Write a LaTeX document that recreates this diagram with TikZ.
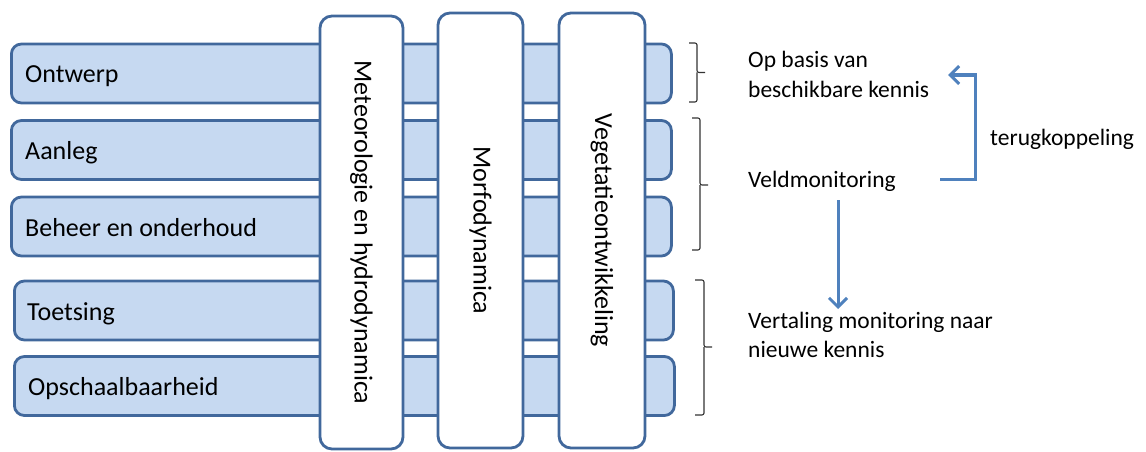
\documentclass[tikz,border=0pt]{standalone}
\usepackage{fontspec}
\setmainfont{Carlito}
\usetikzlibrary{arrows.meta}
\definecolor{barfill}{HTML}{C6D9F1}
\definecolor{barline}{HTML}{41689C}
\definecolor{arrowblue}{HTML}{4F81BD}
\definecolor{bracegray}{HTML}{333333}
\tikzset{
  bar/.style={draw=barline, fill=barfill, line width=2.8pt, rounded corners=10pt, minimum height=59pt, inner sep=0pt, anchor=west},
  vbox/.style={draw=barline, fill=white, line width=2.8pt, rounded corners=12pt, inner sep=0pt, rotate=-90, font=\fontsize{26}{28}\selectfont},
  bartext/.style={anchor=base west, inner sep=0pt, font=\fontsize{26}{28}\selectfont},
  sidetext/.style={anchor=base west, inner sep=0pt, font=\fontsize{23.5}{28}\selectfont},
  bracket/.style={draw=bracegray, line width=1.1pt, rounded corners=2pt},
  flow/.style={draw=arrowblue, line width=3pt, -{Straight Barb[length=9pt,width=18pt,line width=3pt]}}
}
\begin{document}
\begin{tikzpicture}[x=1pt,y=1pt]
\useasboundingbox (0,0) rectangle (1146,451);
% horizontal bars
\node[bar, minimum width=660pt] (r1) at (10,377.5) {};
\node[bar, minimum width=660pt] (r2) at (10,301) {};
\node[bar, minimum width=660pt] (r3) at (10,224.5) {};
\node[bar, minimum width=659pt] (r4) at (13,140.5) {};
\node[bar, minimum width=660pt] (r5) at (13,65) {};
\node[bartext] (t1) at (25,368) {Ontwerp};
\node[bartext] (t2) at (25,291.5) {Aanleg};
\node[bartext] (t3) at (25,215) {Beheer en onderhoud};
\node[bartext] (t4) at (27,131) {Toetsing};
\node[bartext] (t5) at (28,55.5) {Opschaalbaarheid};
% vertical boxes
\node[vbox, minimum width=433pt, minimum height=83pt] (v1) at (361.5,218.5) {Meteorologie en hydrodynamica};
\node[vbox, minimum width=435pt, minimum height=85pt] (v2) at (480.5,220.5) {Morfodynamica};
\node[vbox, minimum width=435pt, minimum height=86pt] (v3) at (602,220.5) {Vegetatieontwikkeling};
% brackets
\coordinate (b1t) at (689,408); \coordinate (b1b) at (689,349); \coordinate (b1m) at (705,378.5);
\draw[bracket] (b1t) -- (697,408) -- (697,378.5) -- (b1m);
\draw[bracket] (b1b) -- (697,349) -- (697,378.5);
\coordinate (b2t) at (692,333); \coordinate (b2b) at (692,201); \coordinate (b2m) at (708,266);
\draw[bracket] (b2t) -- (700,333) -- (700,266) -- (b2m);
\draw[bracket] (b2b) -- (700,201) -- (700,266);
\coordinate (b3t) at (695,171); \coordinate (b3b) at (695,36); \coordinate (b3m) at (712,104);
\draw[bracket] (b3t) -- (704,171) -- (704,104) -- (b3m);
\draw[bracket] (b3b) -- (704,36) -- (704,104);
% side texts
\node[sidetext] (s1) at (748,383) {Op basis van};
\node[sidetext] (s2) at (748,354) {beschikbare kennis};
\node[sidetext] (s3) at (748,264) {Veldmonitoring};
\node[sidetext] (s4) at (990,306) {terugkoppeling};
\node[sidetext] (s5) at (748,123) {Vertaling monitoring naar};
\node[sidetext] (s6) at (748,94) {nieuwe kennis};
% arrows
\coordinate (a1s) at (940,272);
\coordinate (a1e) at (948,376);
\draw[flow] (a1s) -- (975,272) -- (975,376) -- (a1e);
\coordinate (a2s) at (838,251);
\coordinate (a2e) at (838,142);
\draw[flow] (a2s) -- (a2e);
\end{tikzpicture}
\end{document}
